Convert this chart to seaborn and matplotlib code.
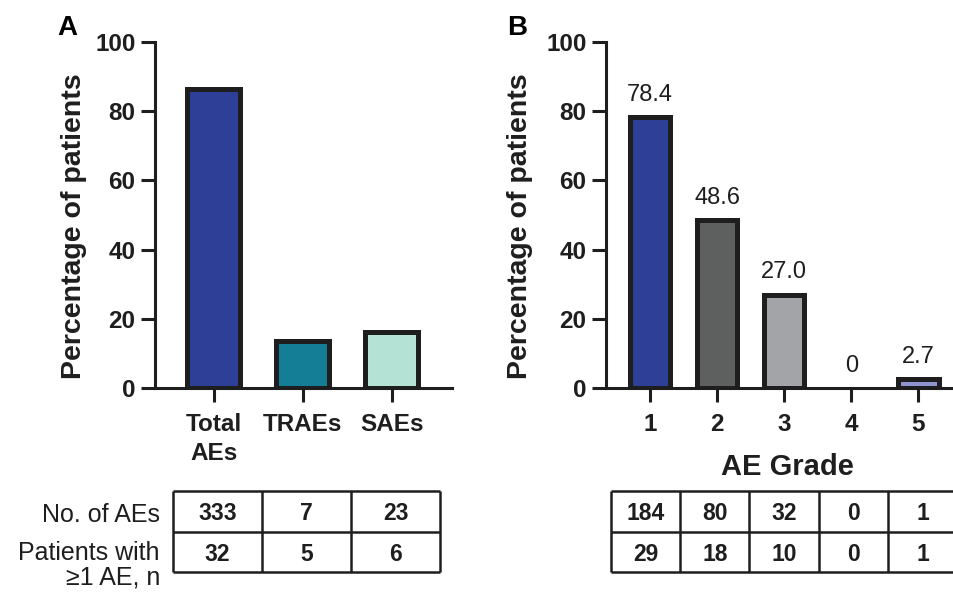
import matplotlib
matplotlib.use("Agg")
import matplotlib.pyplot as plt
import pandas as pd
import seaborn as sns

# Panel A: adverse events by category
ae_categories = ["Total\nAEs", "TRAEs", "SAEs"]
ae_pct = [86.5, 13.5, 16.2]
ae_colors = ["#2E3F98", "#137E96", "#B4E2D4"]
ae_counts = [333, 7, 23]
ae_patients = [32, 5, 6]

# Panel B: adverse events by grade
grades = ["1", "2", "3", "4", "5"]
grade_pct = [78.4, 48.6, 27.0, 0.0, 2.7]
grade_colors = ["#2E3F98", "#5E605F", "#A2A4A8", "#FFFFFF", "#8F93CF"]
grade_counts = [184, 80, 32, 0, 1]
grade_patients = [29, 18, 10, 0, 1]

row_labels = ["No. of AEs", "Patients with\n≥1 AE, n"]
y_ticks = [0, 20, 40, 60, 80, 100]

sns.set_theme(style="ticks")
plt.rcParams["font.family"] = ["Liberation Sans", "DejaVu Sans"]
INK = "#1E1E1E"
W, H = 954, 592
fig = plt.figure(figsize=(W / 100, H / 100), dpi=100)
fig.patch.set_facecolor("white")


def px_axes(x0, y0, x1, y1):
    """Axes from a pixel box measured from the top-left corner."""
    return fig.add_axes([x0 / W, 1 - y1 / H, (x1 - x0) / W, (y1 - y0) / H])


def bar_panel(ax, cats, vals, colors, xlim, ylabel_x, value_labels=False):
    df = pd.DataFrame({"cat": cats, "pct": vals})
    sns.barplot(data=df, x="cat", y="pct", hue="cat", palette=colors,
                legend=False, width=0.6, saturation=1, edgecolor=INK,
                linewidth=3.6, ax=ax)
    bars = sorted(ax.patches, key=lambda p: p.get_x())
    for p in bars:
        if p.get_height() == 0:
            p.set_linewidth(0)
    if value_labels:
        for p, v in zip(bars, vals):
            lbl = "0" if v == 0 else f"{v:.1f}"
            ax.annotate(lbl, (p.get_x() + p.get_width() / 2, v),
                        xytext=(0, 8), textcoords="offset points",
                        ha="center", va="bottom", fontsize=17, color=INK)
    ax.set_ylim(0, 100)
    ax.set_xlim(*xlim)
    ax.set_yticks(y_ticks)
    ax.set_xlabel("")
    ax.set_ylabel("Percentage of patients", fontsize=20.5,
                  fontweight="bold", color=INK)
    ax.yaxis.set_label_coords(ylabel_x, 0.467)
    ax.tick_params(axis="both", direction="out", length=10, width=2.2,
                   color=INK, labelsize=17.5, labelcolor=INK,
                   bottom=True, left=True)
    ax.tick_params(axis="y", pad=4)
    ax.tick_params(axis="x", pad=8)
    for t in ax.get_xticklabels() + ax.get_yticklabels():
        t.set_fontweight("bold")
    for t in ax.get_xticklabels():
        t.set_linespacing(1.35)
    sns.despine(ax=ax)
    for side in ("left", "bottom"):
        ax.spines[side].set_linewidth(2.2)
        ax.spines[side].set_color(INK)
    ax.set_facecolor("none")


def table_panel(box, rows, lw=1.8):
    ax = px_axes(*box)
    nrow, ncol = len(rows), len(rows[0])
    ax.set_xlim(0, ncol)
    ax.set_ylim(nrow, 0)
    ax.axis("off")
    ax.hlines(range(nrow + 1), 0, ncol, color=INK, lw=lw, clip_on=False)
    ax.vlines(range(ncol + 1), 0, nrow, color=INK, lw=lw, clip_on=False)
    for r, row in enumerate(rows):
        for c, v in enumerate(row):
            ax.text(c + 0.5, r + 0.5, str(v), ha="center", va="center_baseline",
                    fontsize=16.5, fontweight="bold", color=INK)
    return ax


def row_label_text(x_px, row_centers):
    for label, yc in zip(row_labels, row_centers):
        for i, line in enumerate(label.split("\n")):
            fig.text(x_px / W, 1 - (yc + 25 * i) / H, line, ha="right",
                     va="center_baseline", fontsize=18, color=INK)


# Panel A
ax_a = px_axes(155, 42, 452, 388)
bar_panel(ax_a, ae_categories, ae_pct, ae_colors, (-0.66, 2.677), -0.229)
table_panel((173, 491, 440, 572), [ae_counts, ae_patients])
row_label_text(160, [512, 550])

# Panel B
ax_b = px_axes(606, 42, 960, 388)
bar_panel(ax_b, grades, grade_pct, grade_colors, (-0.66, 4.62), -0.206,
          value_labels=True)
table_panel((611, 491, 957, 572), [grade_counts, grade_patients])
fig.text(787 / W, 1 - 467 / H, "AE Grade", ha="center", va="center",
         fontsize=21, fontweight="bold", color=INK)

# Panel letters
fig.text(67 / W, 1 - 28 / H, "A", ha="center", va="center", fontsize=20,
         fontweight="bold", color="black")
fig.text(517 / W, 1 - 28 / H, "B", ha="center", va="center", fontsize=20,
         fontweight="bold", color="black")

fig.savefig("out.png", dpi=100, facecolor="white")
